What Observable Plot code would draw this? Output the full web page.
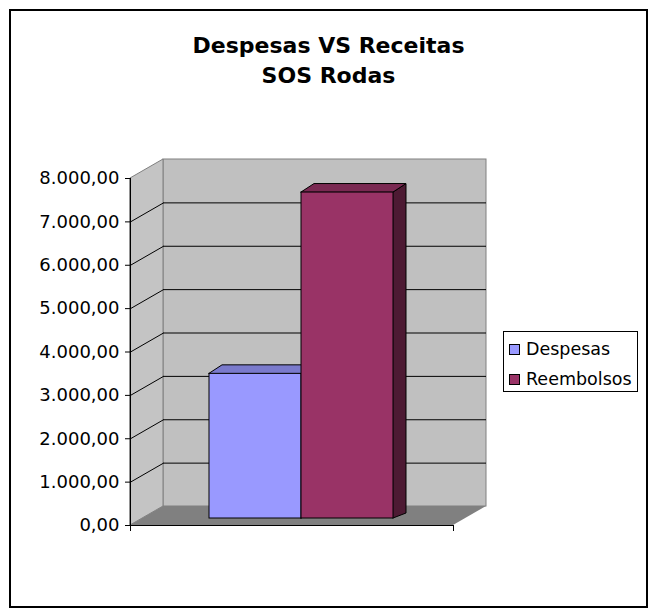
<!DOCTYPE html>
<html>
<head>
<meta charset="utf-8">
<script src="https://cdn.jsdelivr.net/npm/d3@7"></script>
<script src="https://cdn.jsdelivr.net/npm/@observablehq/plot@0.6"></script>
<style>
  html, body { margin: 0; padding: 0; background: #fff; }
  #wrap { position: relative; width: 657px; height: 616px; overflow: hidden; font-family: "DejaVu Sans", Verdana, sans-serif; }
  #chart { position: absolute; left: 0; top: 0; }
  #frame { position: absolute; left: 9px; top: 9px; width: 635px; height: 595px; border: 2px solid #000; pointer-events: none; }
  #title { position: absolute; left: 0; top: 31px; width: 657px; text-align: center; font-weight: bold; font-size: 22px; line-height: 30px; color: #000; }
  #legend { position: absolute; left: 503px; top: 331px; width: 133px; height: 59px; border: 1px solid #000; background: #fff; }
  .item { position: absolute; left: 5px; height: 20px; font-size: 17.5px; line-height: 20px; white-space: nowrap; color: #000; }
  .sw { position: absolute; left: 0; top: 5px; width: 9px; height: 9px; border: 1px solid #000; }
  .lab { position: absolute; left: 17px; top: 0; }
</style>
</head>
<body>
<div id="wrap">
  <div id="chart"></div>
  <div id="title"></div>
  <div id="legend"></div>
  <div id="frame"></div>
</div>
<script>
// ---- data ----
const titleLines = ["Despesas VS Receitas", "SOS Rodas"];
const categories = ["Despesas", "Reembolsos"];
const values = [3335, 7515];
const yTicks = [0, 1000, 2000, 3000, 4000, 5000, 6000, 7000, 8000];
const frontColors = ["#9999ff", "#993366"];
const topColors = ["#7a7acc", "#7a2952"];
const sideColors = ["#4d4d80", "#4d1a33"];

// ---- layout (pixels) ----
const W = 657, H = 616;
const mLeft = 130, mTop = 178, mBottom = 91;
const floorW = 323;             // front floor width in px (x units = px)
const yMax = 8000;
const plotH = H - mTop - mBottom;
const ky = yMax / plotH;        // y units per px
const wallDX = 33, wallDY = 19 * ky;
const barStart = 67, barW = 92, barOffX = 12, barOffY = 7 * ky;
const barDX = 13, barDYTop = 8.5 * ky, barDYBot = 5 * ky;

const fmt = d3.formatLocale({decimal: ",", thousands: ".", grouping: [3], currency: ["", ""]}).format(",.2f");

// derived geometry
const sideWall = [0, 1].map(t => ({x: t * wallDX, y1: t * wallDY, y2: yMax + t * wallDY}));
const floor = [0, 1].map(t => ({y: t * wallDY, x1: t * wallDX, x2: floorW + t * wallDX}));
const gridTicks = yTicks.filter(t => t > 0 && t < yMax);

const marks = [
  // back wall
  Plot.rect([0], {x1: wallDX, x2: floorW + wallDX, y1: wallDY, y2: yMax + wallDY, fill: "#c0c0c0", stroke: "#808080"}),
  // side wall
  Plot.areaY(sideWall, {x: "x", y1: "y1", y2: "y2", fill: "#c4c4c4", stroke: "#808080", curve: "linear"}),
  // back wall gridlines
  Plot.ruleY(gridTicks, {y: d => d + wallDY, x1: wallDX, x2: floorW + wallDX, stroke: "#000"}),
  // side wall gridlines
  Plot.link(gridTicks, {x1: 0, y1: d => d, x2: wallDX, y2: d => d + wallDY, stroke: "#000"}),
  // floor
  Plot.areaX(floor, {y: "y", x1: "x1", x2: "x2", fill: "#808080", curve: "linear"})
];

categories.forEach((c, i) => {
  const x1 = barStart + i * barW + barOffX, x2 = x1 + barW;
  const base = barOffY, top = barOffY + values[i];
  const side = [0, 1].map(t => ({x: x2 + t * barDX, y1: base + t * barDYBot, y2: top + t * barDYTop}));
  const topF = [0, 1].map(t => ({y: top + t * barDYTop, x1: x1 + t * barDX, x2: x2 + t * barDX}));
  marks.push(
    Plot.areaY(side, {x: "x", y1: "y1", y2: "y2", fill: sideColors[i], stroke: "#000", strokeWidth: 1}),
    Plot.areaX(topF, {y: "y", x1: "x1", x2: "x2", fill: topColors[i], stroke: "#000", strokeWidth: 1}),
    Plot.rect([c], {x1: x1, x2: x2, y1: base, y2: top, fill: frontColors[i], stroke: "#000", strokeWidth: 1})
  );
});

marks.push(
  // axes lines
  Plot.ruleX([0], {y1: -6 * ky, y2: yMax, stroke: "#000"}),
  Plot.ruleY([0], {x1: 0, x2: floorW, stroke: "#000"}),
  Plot.ruleX([floorW], {y1: -6 * ky, y2: 0, stroke: "#000"}),
  Plot.axisY(yTicks, {tickFormat: fmt, tickSize: 5, tickPadding: 6, fontSize: 18, fontFamily: "DejaVu Sans", fill: "#000", stroke: "#000", label: null})
);

const chart = Plot.plot({
  width: W,
  height: H,
  marginLeft: mLeft,
  marginRight: W - mLeft - floorW,
  marginTop: mTop,
  marginBottom: mBottom,
  x: {domain: [0, floorW], axis: null},
  y: {domain: [0, yMax], axis: null},
  style: {background: "transparent", overflow: "visible", fontFamily: "DejaVu Sans"},
  marks
});
document.getElementById("chart").appendChild(chart);

document.getElementById("title").innerHTML = titleLines.map(t => `<div>${t}</div>`).join("");

const legend = document.getElementById("legend");
categories.forEach((c, i) => {
  const item = document.createElement("div");
  item.className = "item";
  item.style.top = (7 + i * 30) + "px";
  item.innerHTML = `<span class="sw" style="background:${frontColors[i]}"></span><span class="lab">${c}</span>`;
  legend.appendChild(item);
});
</script>
</body>
</html>
